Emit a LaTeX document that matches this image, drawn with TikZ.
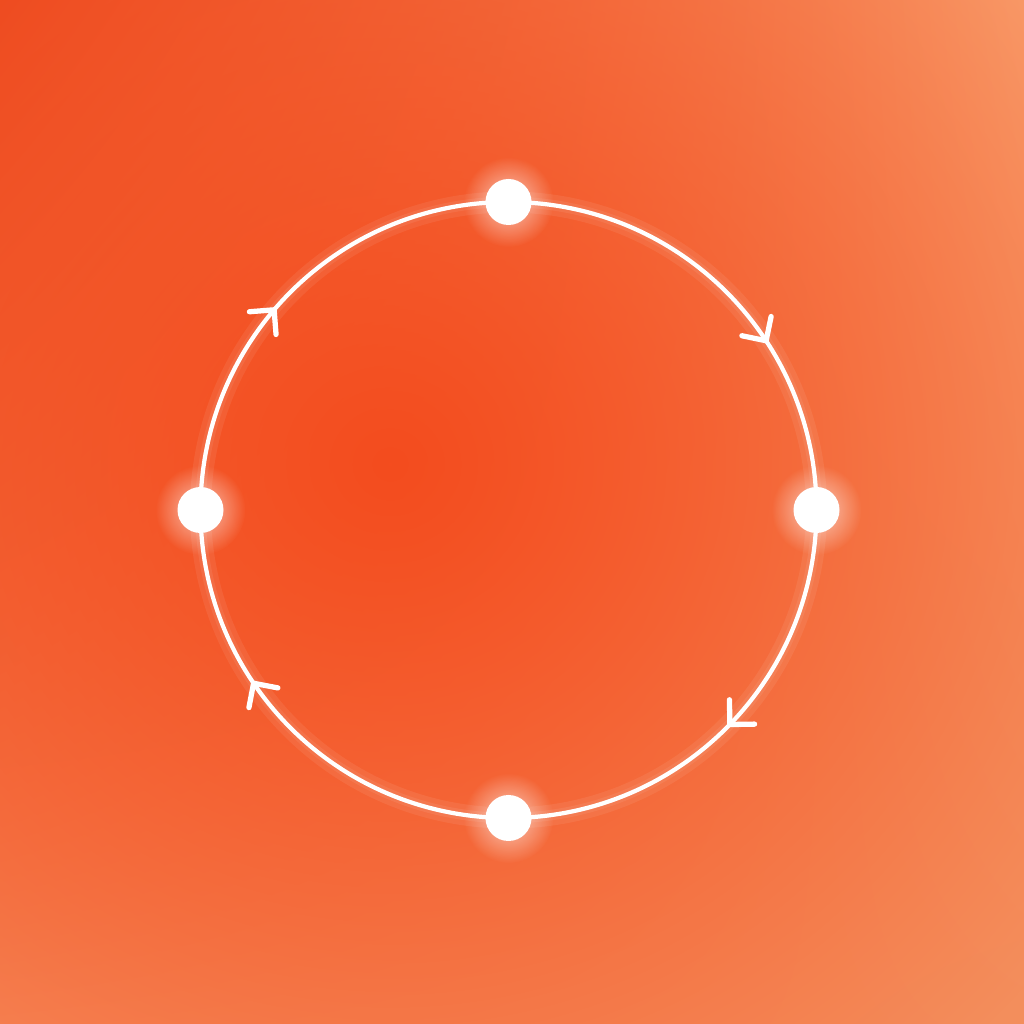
\documentclass[tikz,border=0pt]{standalone}
\usetikzlibrary{decorations.markings,fadings,shadings,calc}
\definecolor{bgTL}{RGB}{236,76,34}
\definecolor{bgTR}{RGB}{249,156,106}
\definecolor{bgBL}{RGB}{246,136,88}
\definecolor{bgBR}{RGB}{243,142,92}
\definecolor{bgcore}{RGB}{244,76,30}
\tikzfading[name=softblob, inner color=transparent!0, outer color=transparent!100]
\tikzfading[name=glowfade, inner color=transparent!35, outer color=transparent!100]
\tikzset{
	ring/.style={draw=white, line width=1.2pt},
	halo/.style={draw=white, line width=#1, opacity=0.07},
	dot/.style={circle, fill=white, minimum size=4.6mm, inner sep=0pt},
	flowtip/.style={postaction={decorate, decoration={markings,
		mark=at position #1 with {\draw[white, line width=1.5pt, line cap=round, line join=round] (-1.75mm,1.75mm) -- (0,0) -- (-1.75mm,-1.75mm);}}}}
}
\begin{document}
\begin{tikzpicture}[line join=round, line cap=round]
	\useasboundingbox (0,0) rectangle (10.24,10.24);
	\begin{scope}
		\clip (0,0) rectangle (10.24,10.24);
		\shade[upper left=bgTL, upper right=bgTR, lower left=bgBL, lower right=bgBR] (0,0) rectangle (10.24,10.24);
		\fill[bgcore, path fading=softblob] (3.9,5.6) ellipse (8.4 and 8);
	\end{scope}
	\coordinate (c) at (5.085,5.14);
	\coordinate (ptop) at ($(c)+(90:3.08)$);
	\coordinate (pright) at ($(c)+(0:3.08)$);
	\coordinate (pbottom) at ($(c)+(-90:3.08)$);
	\coordinate (pleft) at ($(c)+(180:3.08)$);
	\draw[halo=6pt] (c) circle (3.08);
	\draw[halo=3pt] (c) circle (3.08);
	\draw[ring, flowtip=0.63] (ptop) to[out=0, in=90] (pright);
	\draw[ring, flowtip=0.49] (pright) to[out=-90, in=0] (pbottom);
	\draw[ring, flowtip=0.62] (pbottom) to[out=180, in=-90] (pleft);
	\draw[ring, flowtip=0.45] (pleft) to[out=90, in=180] (ptop);
	\foreach \p in {top,right,bottom,left}{
		\fill[white, path fading=glowfade] (p\p) circle (0.45);
		\node[dot] (n\p) at (p\p) {};
	}
\end{tikzpicture}
\end{document}
